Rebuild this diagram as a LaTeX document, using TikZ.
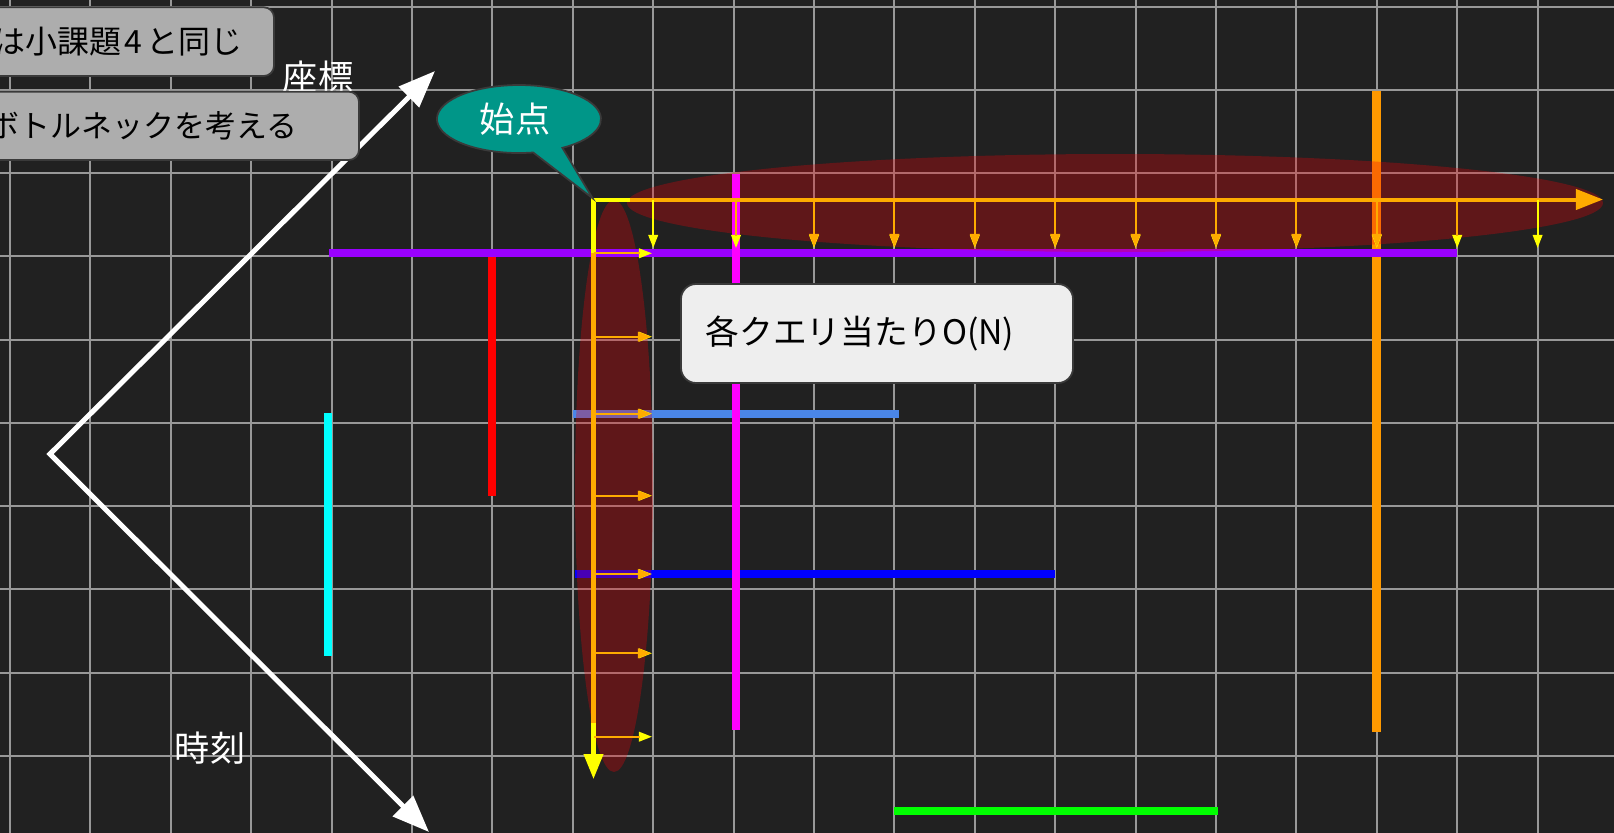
\documentclass[tikz,border=0pt]{standalone}
\usepackage{fontspec}
\newfontfamily\jp{Noto Sans CJK JP}
\usetikzlibrary{arrows.meta}
\definecolor{bg}{RGB}{33,33,33}
\definecolor{gridc}{RGB}{152,152,152}
\definecolor{ellred}{RGB}{240,0,8}
\definecolor{cpurple}{RGB}{153,0,255}
\definecolor{cred}{RGB}{255,0,0}
\definecolor{ccyan}{RGB}{0,255,255}
\definecolor{cmag}{RGB}{255,0,255}
\definecolor{clblue}{RGB}{74,134,232}
\definecolor{cblue}{RGB}{0,0,255}
\definecolor{cgreen}{RGB}{0,255,0}
\definecolor{corange}{RGB}{255,153,0}
\definecolor{amber}{RGB}{255,171,0}
\definecolor{cyel}{RGB}{255,255,0}
\definecolor{bubteal}{RGB}{0,150,136}
\definecolor{boxgray}{RGB}{173,173,173}
\definecolor{boxlight}{RGB}{238,238,238}
\definecolor{edgec}{RGB}{58,58,58}
\tikzset{
  gridline/.style={draw=gridc, line width=0.57pt},
  seg/.style={line width=2.28pt},
  ellfill/.style={fill=ellred, fill opacity=0.3},
  smallarrow/.style={line width=0.57pt, -{Triangle[length=3.7pt,width=2.7pt]}},
  smallshaft/.style={line width=0.57pt},
  mainline/.style={line width=1.14pt, line join=miter},
  axisline/.style={draw=white, line width=1.42pt, line join=miter,
     {Triangle[length=10.5pt,width=8pt]}-{Triangle[length=10.5pt,width=8pt]}},
  graybox/.style={fill=boxgray, draw=edgec, line width=0.5pt, rounded corners=2.9pt},
  lightbox/.style={fill=boxlight, draw=edgec, line width=0.5pt, rounded corners=4.3pt},
  boxtext/.style={font={\jp\fontsize{9.1pt}{11pt}\selectfont}, text=black, inner sep=0pt},
  labeltext/.style={font={\jp\fontsize{10pt}{12pt}\selectfont}, text=white, inner sep=0pt},
}
\begin{document}
\begin{tikzpicture}[x=0.01cm,y=-0.01cm]
\fill[bg] (0,0) rectangle (1614,833);
\useasboundingbox (0,0) rectangle (1614,833);
\clip (0,0) rectangle (1614,833);
% grid
\foreach \k in {0,...,19} \draw[gridline] ({10+80.4*\k},0) -- ({10+80.4*\k},833);
\foreach \k in {0,...,9} \draw[gridline] (0,{6.5+83.25*\k}) -- (1614,{6.5+83.25*\k});
% segments under the ellipses
\coordinate (cyA) at (328,413); \coordinate (cyB) at (328,656);
\coordinate (rdA) at (492,257); \coordinate (rdB) at (492,496);
\coordinate (lbA) at (573,414); \coordinate (lbB) at (899,414);
\coordinate (buA) at (575,574); \coordinate (buB) at (1055,574);
\coordinate (grA) at (894,810.7); \coordinate (grB) at (1218,810.7);
\coordinate (orA) at (1376.5,90.7); \coordinate (orB) at (1376.5,731.7);
\coordinate (puA) at (329,253.3); \coordinate (puB) at (1457,253.3);
\coordinate (mgA) at (736,174); \coordinate (mgB) at (736,730);
\draw[seg, ccyan] (cyA) -- (cyB);
\draw[seg, cred] (rdA) -- (rdB);
\draw[seg, clblue] (lbA) -- (lbB);
\draw[seg, cblue] (buA) -- (buB);
\draw[seg, cgreen] (grA) -- (grB);
\draw[seg, corange] (orA) -- (orB);
% vertical ellipse
\fill[ellfill] (614,486) ellipse[x radius=39, y radius=286];
\draw[seg, cpurple] (puA) -- (puB);
% horizontal ellipse
\fill[ellfill] (1115,203) ellipse[x radius=488, y radius=49];
\draw[seg, cmag] (mgA) -- (mgB);
% main yellow / orange arrows
\coordinate (start) at (593.5,199.5);
\coordinate (hbr) at (630,199.5);
\coordinate (hend) at (1603,199.5);
\coordinate (vend) at (593.5,779);
\coordinate (vo1) at (593.5,253);
\coordinate (vo2) at (593.5,723);
\draw[mainline, cyel, -{Triangle[length=7.1pt,width=5.4pt]}] (hbr) -- (start) -- (vend);
\draw[mainline, amber, -{Triangle[length=7.7pt,width=5.7pt]}] (hbr) -- (hend);
\draw[mainline, amber] (vo1) -- (vo2);
% small down arrows
\foreach \x in {653.2,736,814,894.4,974.8,1055.2,1135.6,1216,1296.4,1376.8,1457.2,1537.6}
  \draw[smallarrow, cyel] (\x,199.5) -- (\x,248);
\foreach \x in {814,894.4,974.8,1055.2,1135.6,1216,1296.4,1376.8}
  \draw[smallarrow, amber] (\x,199.5) -- (\x,247);
\foreach \x in {736,1457.2}
  \draw[smallshaft, amber] (\x,199.5) -- (\x,236);
% small right arrows
\foreach \y in {253.3,336.7,413.7,495.7,574,653.3,736.7}
  \draw[smallarrow, cyel] (593.5,\y) -- (652,\y);
\foreach \y in {336.7,413.7,495.7,574,653.3}
  \draw[smallarrow, amber] (593.5,\y) -- (651,\y);
\foreach \y in {253.3,736.7}
  \draw[smallshaft, amber] (593.5,\y) -- (640,\y);
% white axes
\coordinate (axUp) at (435,71);
\coordinate (axO) at (50,454);
\coordinate (axDn) at (429,832);
\draw[axisline] (axUp) -- (axO) -- (axDn);
\node[labeltext] (zahyo) at (318,77) {座標};
\node[labeltext] (jikoku) at (210,748) {時刻};
% gray boxes
\draw[graybox] (-20,7.3) rectangle (274,76);
\node[boxtext, anchor=east] (t1) at (243,42) {は小課題\kern0.9pt 4\kern1.1pt と同じ};
\draw[graybox] (-20,91.7) rectangle (359,160);
\node[boxtext, anchor=east, font={\jp\fontsize{8.8pt}{11pt}\selectfont}] (t2) at (298,126) {ボトルネックを考える};
% light box
\draw[lightbox] (681,284) rectangle (1073,383);
\node[boxtext, anchor=west, font={\jp\fontsize{9.6pt}{11pt}\selectfont}] (t3) at (705,333) {各クエリ当たりO(N)};
% speech bubble
\fill[bubteal, draw=edgec, line width=0.5pt] (533.2,152.5) arc[start angle=80, end angle=418, x radius=82, y radius=34] -- (592.7,198.3) -- cycle;
\node[labeltext] (shiten) at (515,119) {始点};
\end{tikzpicture}
\end{document}
